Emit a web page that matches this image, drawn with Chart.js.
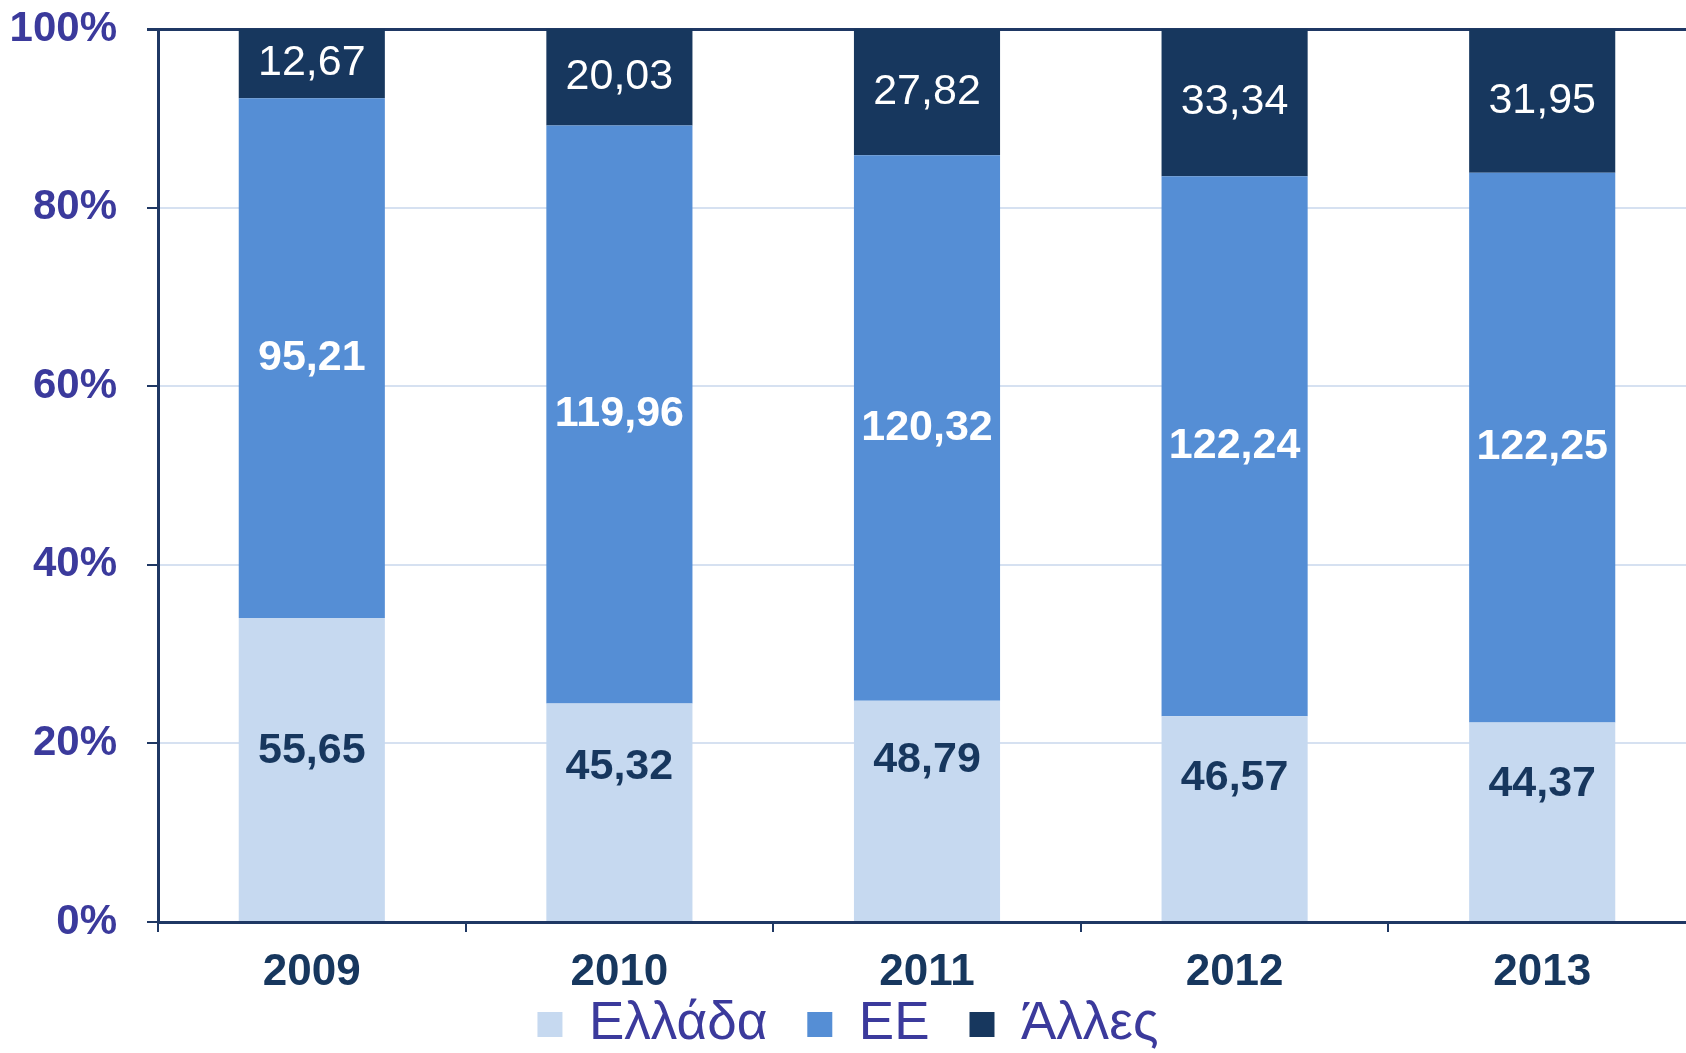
<!DOCTYPE html>
<html>
<head>
<meta charset="utf-8">
<script src="https://cdn.jsdelivr.net/npm/chart.js@4"></script>
<style>
  html, body { margin: 0; padding: 0; background: #ffffff; overflow: hidden; }
  canvas { display: block; }
</style>
</head>
<body>
<canvas id="c" width="1700" height="1091"></canvas>
<script>
// ---- data ----
const years = ['2009', '2010', '2011', '2012', '2013'];
const seriesNames = ['Ελλάδα', 'ΕΕ', 'Άλλες'];
const greece = [55.65, 45.32, 48.79, 46.57, 44.37];
const eu = [95.21, 119.96, 120.32, 122.24, 122.25];
const other = [12.67, 20.03, 27.82, 33.34, 31.95];
const yTicks = [0, 20, 40, 60, 80, 100];

// ---- styling ----
const colors = ['#c6d9f0', '#558ed5', '#17375e'];
const labelColors = ['#17375e', '#ffffff', '#ffffff'];
const labelWeights = ['bold', 'bold', 'normal'];
// vertical anchor of the value label inside each Ελλάδα segment (fraction of segment height from the base)
const greeceLabelAnchor = [0.56, 0.71, 0.73, 0.70, 0.69];

const raw = [greece, eu, other];
const totals = years.map((_, i) => greece[i] + eu[i] + other[i]);
const pct = raw.map(arr => arr.map((v, i) => v / totals[i] * 100));

const valueLabels = {
  id: 'valueLabels',
  afterDatasetsDraw(chart) {
    const ctx = chart.ctx;
    ctx.save();
    ctx.textAlign = 'center';
    ctx.textBaseline = 'middle';
    chart.data.datasets.forEach((ds, di) => {
      const meta = chart.getDatasetMeta(di);
      meta.data.forEach((bar, i) => {
        const p = bar.getProps(['x', 'y', 'base'], true);
        let y = (p.y + p.base) / 2;
        if (di === 0) y = p.base - greeceLabelAnchor[i] * (p.base - p.y);
        ctx.font = labelWeights[di] + ' 43px "Liberation Sans", Arial, sans-serif';
        ctx.fillStyle = labelColors[di];
        ctx.fillText(raw[di][i].toFixed(2).replace('.', ','), p.x, y);
      });
    });
    ctx.restore();
  }
};

// move the legend row up so it sits right under the year labels
const legendShift = {
  id: 'legendShift',
  afterLayout(chart) {
    if (chart.legend) {
      chart.legend.top -= 30;
      chart.legend.bottom -= 30;
    }
  }
};

new Chart(document.getElementById('c'), {
  type: 'bar',
  data: {
    labels: years,
    datasets: seriesNames.map((name, k) => ({
      label: name,
      data: pct[k],
      backgroundColor: colors[k],
      borderWidth: 0,
      categoryPercentage: 1.0,
      barPercentage: 0.475
    }))
  },
  options: {
    responsive: false,
    animation: false,
    devicePixelRatio: 1,
    layout: { padding: { top: 29, right: 4, bottom: 0, left: 0 } },
    plugins: {
      legend: {
        display: true,
        position: 'bottom',
        labels: {
          boxWidth: 25,
          boxHeight: 25,
          padding: 40,
          color: '#3b3a9c',
          font: { family: '"Liberation Sans", Arial, sans-serif', size: 53, weight: 'normal' }
        }
      },
      tooltip: { enabled: false }
    },
    scales: {
      x: {
        stacked: true,
        z: 1,
        grid: {
          offset: true,
          drawOnChartArea: false,
          drawTicks: true,
          tickLength: 10,
          color: '#1f3864',
          lineWidth: 2
        },
        border: { display: true, color: '#1f3864', width: 3 },
        ticks: {
          color: '#17375e',
          padding: 14,
          font: { family: '"Liberation Sans", Arial, sans-serif', size: 44, weight: 'bold' }
        },
        afterFit(scale) { scale.height = 66; }
      },
      y: {
        stacked: true,
        min: 0,
        max: 100,
        afterBuildTicks(scale) { scale.ticks = yTicks.map(v => ({ value: v })); },
        grid: {
          color: c => (c.tick && c.tick.value === 100) ? '#1f3864' : '#d6e1f1',
          lineWidth: c => (c.tick && c.tick.value === 100) ? 3 : 2,
          tickColor: '#1f3864',
          tickLength: 11
        },
        border: { display: true, color: '#1f3864', width: 3 },
        ticks: {
          color: '#3b3a9c',
          padding: 30,
          font: { family: '"Liberation Sans", Arial, sans-serif', size: 42, weight: 'bold' },
          callback: v => v + '%'
        },
        afterFit(scale) {
          scale.width = 158;
          scale.paddingTop = 0;
          scale.paddingBottom = 0;
        }
      }
    }
  },
  plugins: [valueLabels, legendShift]
});
</script>
</body>
</html>
